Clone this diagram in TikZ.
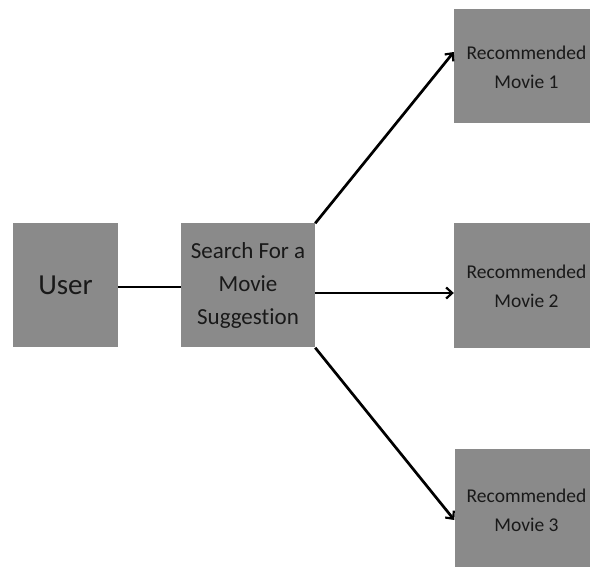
\documentclass[tikz,border=0pt]{standalone}
\usepackage{fontspec}
\setmainfont{Carlito}[Ligatures=NoCommon]
\usetikzlibrary{arrows.meta}
\definecolor{boxgray}{RGB}{138,138,138}
\definecolor{txt}{RGB}{25,25,25}
\tikzset{
  box/.style={fill=boxgray, draw=none, inner sep=0pt, text=txt, align=center},
  rec/.style={box, minimum width=136pt},
  rectext/.style={align=center, text=txt, font=\fontsize{19.5}{29}\selectfont, inner sep=0pt},
  conn/.style={line width=2.7pt, draw=black},
  arr/.style={conn, -{Straight Barb[length=6pt,width=11pt,line width=2.2pt]}}
}
\begin{document}
\begin{tikzpicture}[x=1pt,y=-1pt]
\useasboundingbox (0,0) rectangle (590,567);
\node[box, minimum width=105pt, minimum height=124pt, font=\fontsize{29}{32}\selectfont] (user) at (65.5,285.5) {User};
\node[box, minimum width=134pt, minimum height=124pt, font=\fontsize{23}{33}\selectfont] (search) at (248,285.5) {Search For a\\Movie\\Suggestion};
\node[rec, minimum height=114pt] (r1) at (522,66) {};
\node[rec, minimum height=125pt] (r2) at (522,285.5) {};
\node[rec, minimum height=118pt] (r3) at (522.5,508) {};
\node[rectext] (t1) at (526.5,67) {Recommended\\Movie 1};
\node[rectext] (t2) at (526.5,286) {Recommended\\Movie 2};
\node[rectext] (t3) at (526.5,510) {Recommended\\Movie 3};
\draw[conn] (user.east |- 0,287) -- (search.west |- 0,287);
\draw[arr] (search.north east) -- (r1.west |- 0,52);
\draw[arr] (search.east |- 0,293) -- (r2.west |- 0,293);
\draw[arr] (search.south east) -- (r3.west |- 0,520);
\end{tikzpicture}
\end{document}
